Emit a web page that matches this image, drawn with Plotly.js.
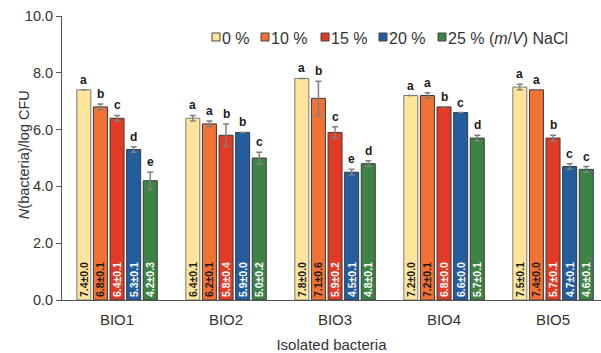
<!DOCTYPE html>
<html>
<head>
<meta charset="utf-8">
<script src="https://cdn.plot.ly/plotly-3.0.1.min.js"></script>
<style>
  html, body { margin: 0; padding: 0; background: #fff; }
  #chart { width: 601px; height: 353px; }
</style>
</head>
<body>
<div id="chart"></div>
<script>
// Bacterial counts (log CFU) of five isolates under increasing NaCl levels
const categories = ['BIO1', 'BIO2', 'BIO3', 'BIO4', 'BIO5'];
const seriesNames = ['0 %', '10 %', '15 %', '20 %', '25 % (<i>m</i>/<i>V</i>) NaCl'];

const mean0 = [7.4, 6.4, 7.8, 7.2, 7.5];
const sd0 = [0.0, 0.1, 0.0, 0.0, 0.1];
const letters0 = ['a', 'a', 'a', 'a', 'a'];

const mean10 = [6.8, 6.2, 7.1, 7.2, 7.4];
const sd10 = [0.1, 0.1, 0.6, 0.1, 0.0];
const letters10 = ['b', 'a', 'b', 'a', 'a'];

const mean15 = [6.4, 5.8, 5.9, 6.8, 5.7];
const sd15 = [0.1, 0.4, 0.2, 0.0, 0.1];
const letters15 = ['c', 'b', 'c', 'b', 'b'];

const mean20 = [5.3, 5.9, 4.5, 6.6, 4.7];
const sd20 = [0.1, 0.0, 0.1, 0.0, 0.1];
const letters20 = ['d', 'b', 'e', 'c', 'c'];

const mean25 = [4.2, 5.0, 4.8, 5.7, 4.6];
const sd25 = [0.3, 0.2, 0.1, 0.1, 0.1];
const letters25 = ['e', 'c', 'd', 'd', 'c'];

const yTickVals = [0, 2, 4, 6, 8, 10];

const means = [mean0, mean10, mean15, mean20, mean25];
const sds = [sd0, sd10, sd15, sd20, sd25];
const letters = [letters0, letters10, letters15, letters20, letters25];

const fillColors = ['#FFE49C', '#F17232', '#E33A26', '#235D9E', '#3F8245'];
const edgeColors = ['#7a7a7a', '#3a3a3a', '#3a3a3a', '#3a3a3a', '#3a3a3a'];
const labelColors = ['#1a1a1a', '#1a1a1a', '#ffffff', '#ffffff', '#ffffff'];

const FONT = 'Liberation Sans, Arial, sans-serif';
const BARGAP = 0.238;
const GROUPGAP = 0.157;

// plot-area geometry in pixels, used to place the key in paper units
const W = 601, H = 353;
const M = { l: 62, r: 0, t: 16, b: 53 };
const plotW = W - M.l - M.r, plotH = H - M.t - M.b;
const px2x = px => (px - M.l) / plotW;
const py2y = py => (H - M.b - py) / plotH;

const traces = means.map((m, s) => ({
  type: 'bar',
  name: seriesNames[s],
  x: categories,
  y: m,
  text: m.map((v, i) => v.toFixed(1) + '±' + sds[s][i].toFixed(1)),
  textposition: 'inside',
  insidetextanchor: 'start',
  textangle: -90,
  constraintext: 'none',
  textfont: { family: FONT, size: 10.5, color: labelColors[s], weight: 'bold' },
  marker: { color: fillColors[s], line: { color: edgeColors[s], width: 1 } },
  error_y: { type: 'data', array: sds[s], visible: true, color: '#808080', thickness: 1.5, width: 3 },
  showlegend: false,
  hoverinfo: 'skip'
}));

// significance letters sit above each bar's error cap
const nSeries = means.length;
const slot = (1 - BARGAP) / nSeries;
const annotations = [];
means.forEach((m, s) => {
  m.forEach((v, i) => {
    annotations.push({
      x: i + (s - (nSeries - 1) / 2) * slot,
      y: v + sds[s][i],
      xref: 'x', yref: 'y',
      text: '<b>' + letters[s][i] + '</b>',
      showarrow: false,
      xanchor: 'center', yanchor: 'bottom',
      yshift: 1,
      font: { family: FONT, size: 12, color: '#1a1a1a' }
    });
  });
});

// y-axis title
annotations.push({
  x: px2x(24), y: 0.51, xref: 'paper', yref: 'paper',
  text: '<i>N</i>(bacteria)/log CFU',
  textangle: -90, showarrow: false,
  xanchor: 'center', yanchor: 'middle',
  font: { family: FONT, size: 14.5, color: '#333' }
});

// compact key: small outlined swatches with labels right next to them
const keySwatchLeft = [212, 261, 321, 379, 438];
const keySwatch = 8, keyTop = 33, keyTextY = 38;
const shapes = [];
seriesNames.forEach((name, s) => {
  const x0 = keySwatchLeft[s];
  shapes.push({
    type: 'rect', xref: 'paper', yref: 'paper',
    x0: px2x(x0), x1: px2x(x0 + keySwatch),
    y0: py2y(keyTop + keySwatch), y1: py2y(keyTop),
    fillcolor: fillColors[s],
    line: { color: '#444', width: 1 }
  });
  annotations.push({
    x: px2x(x0 + keySwatch), y: py2y(keyTextY),
    xref: 'paper', yref: 'paper',
    text: name, showarrow: false,
    xanchor: 'left', yanchor: 'middle',
    font: { family: FONT, size: 16, color: '#333' }
  });
});

const layout = {
  width: W, height: H,
  margin: M,
  paper_bgcolor: '#fff', plot_bgcolor: '#fff',
  barmode: 'group',
  bargap: BARGAP,
  bargroupgap: GROUPGAP,
  font: { family: FONT, color: '#333' },
  showlegend: false,
  xaxis: {
    type: 'category',
    range: [-0.505, 4.44],
    showline: true, linecolor: '#555', linewidth: 1,
    ticks: '',
    ticklabelstandoff: 6,
    showgrid: false, zeroline: false,
    tickfont: { family: FONT, size: 15, color: '#333' },
    title: { text: 'Isolated bacteria', font: { family: FONT, size: 15, color: '#333' }, standoff: 12 }
  },
  yaxis: {
    range: [0, 10],
    tickvals: yTickVals,
    tickformat: '.1f',
    ticks: 'outside', ticklen: 5, tickcolor: '#555',
    showline: true, linecolor: '#555', linewidth: 1,
    showgrid: false, zeroline: false,
    tickfont: { family: FONT, size: 14.5, color: '#333' }
  },
  shapes: shapes,
  annotations: annotations
};

Plotly.newPlot('chart', traces, layout, { displayModeBar: false, staticPlot: true });
</script>
</body>
</html>
